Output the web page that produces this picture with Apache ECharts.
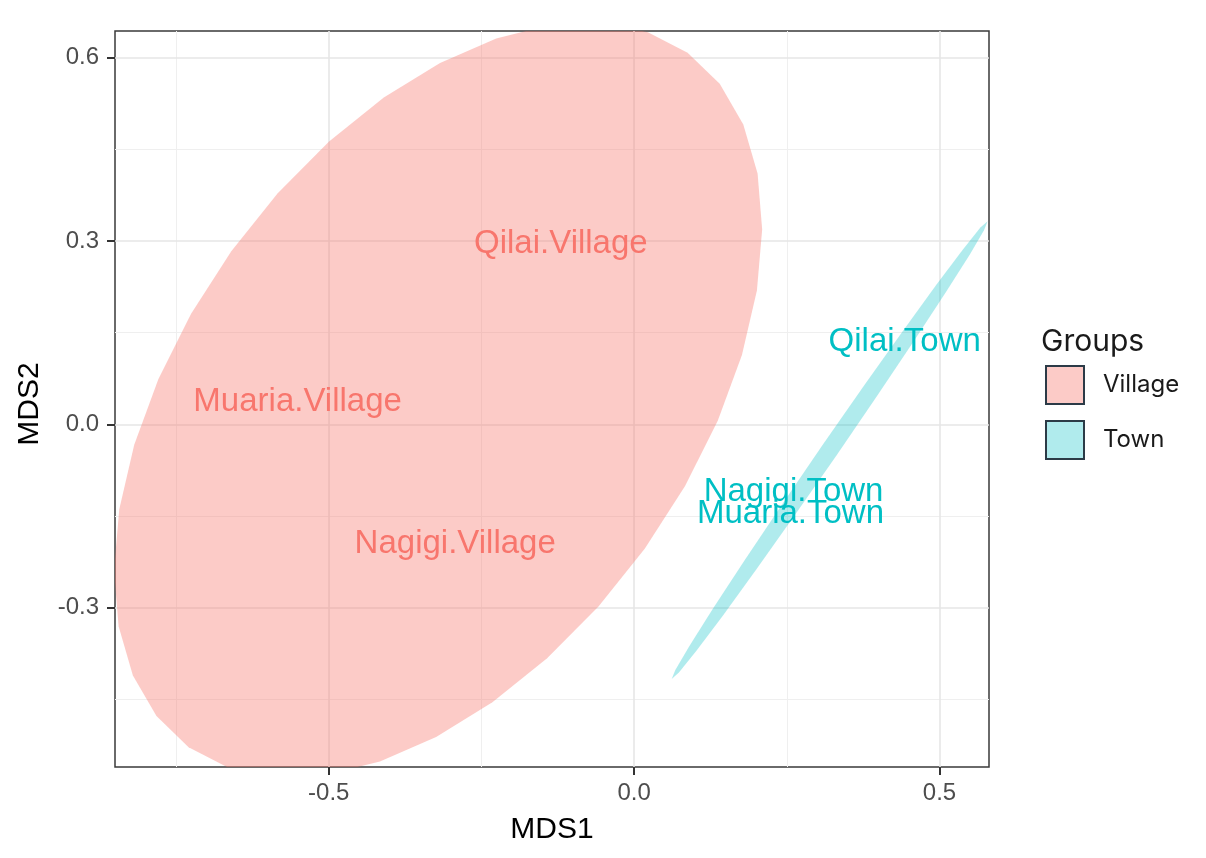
<!DOCTYPE html>
<html lang="en">
<head>
    <meta charset="UTF-8">
    <title>MDS</title>
    <script src="https://cdn.jsdelivr.net/npm/echarts@6.0.0/dist/echarts.min.js"></script>
    <style>
        html, body { margin: 0; padding: 0; background: #fff; }
        #chart { width: 1206px; height: 858px; }
    </style>
</head>
<body>
    <div id="chart"></div>
    <script>
        // tick positions
        var xTicks = [-0.5, 0, 0.5];
        var xMinor = [-0.75, -0.25, 0.25];
        var yTicks = [-0.3, 0, 0.3, 0.6];
        var yMinor = [-0.45, -0.15, 0.15, 0.45];

        // group labels (MDS1, MDS2)
        var villageNames = ['Qilai.Village', 'Muaria.Village', 'Nagigi.Village'];
        var villagePoints = [[-0.120, 0.296], [-0.551, 0.036], [-0.293, -0.196]];
        var townNames = ['Qilai.Town', 'Nagigi.Town', 'Muaria.Town'];
        var townPoints = [[0.443, 0.135], [0.261, -0.110], [0.256, -0.146]];

        // ellipse outlines (partly outside the panel)
        var villageOutline = [
            [0.0875, 0.6085], [0.0225, 0.6421], [-0.0529, 0.6574], [-0.1365, 0.6540],
            [-0.2258, 0.6319], [-0.3178, 0.5918], [-0.4099, 0.5350], [-0.4995, 0.4630],
            [-0.5836, 0.3783], [-0.6596, 0.2833], [-0.7254, 0.1809], [-0.7789, 0.0742],
            [-0.8185, -0.0336], [-0.8430, -0.1390], [-0.8516, -0.2391], [-0.8441, -0.3306],
            [-0.8207, -0.4110], [-0.7821, -0.4777], [-0.7295, -0.5285], [-0.6645, -0.5621],
            [-0.5891, -0.5774], [-0.5055, -0.5740], [-0.4162, -0.5519], [-0.3242, -0.5118],
            [-0.2321, -0.4550], [-0.1425, -0.3830], [-0.0584, -0.2983], [0.0176, -0.2033],
            [0.0834, -0.1009], [0.1369, 0.0058], [0.1765, 0.1136], [0.2010, 0.2190],
            [0.2096, 0.3191], [0.2021, 0.4106], [0.1787, 0.4910], [0.1401, 0.5577]
        ];
        var townOutline = [
            [0.5787, 0.3327], [0.5728, 0.3178], [0.5499, 0.2786], [0.5111, 0.2173],
            [0.4594, 0.1385], [0.3982, 0.0473], [0.3318, -0.0501], [0.2643, -0.1468],
            [0.2008, -0.2363], [0.1455, -0.3128], [0.1020, -0.3705], [0.0733, -0.4062],
            [0.0615, -0.4169], [0.0674, -0.4020], [0.0905, -0.3627], [0.1291, -0.3013],
            [0.1809, -0.2226], [0.2421, -0.1314], [0.3085, -0.0340], [0.3759, 0.0627],
            [0.4394, 0.1522], [0.4948, 0.2286], [0.5383, 0.2864], [0.5669, 0.3221]
        ];

        var VILLAGE = '#F8766D';
        var TOWN = '#00BFC4';
        var FONT = '"Liberation Sans", Arial, sans-serif';

        function outlineItem(outline) {
            return function (params, api) {
                if (params.dataIndex !== 0) return;
                var pts = outline.map(function (p) { return api.coord(p); });
                return {
                    type: 'polygon',
                    shape: { points: pts },
                    style: { fill: api.visual('color') }
                };
            };
        }

        function labelItem(names, color) {
            return function (params, api) {
                var pt = api.coord([api.value(0), api.value(1)]);
                return {
                    type: 'text',
                    x: pt[0],
                    y: pt[1],
                    style: {
                        text: names[params.dataIndex],
                        fill: color,
                        fontSize: 33,
                        fontFamily: FONT,
                        align: 'center',
                        verticalAlign: 'middle'
                    }
                };
            };
        }

        var major = { color: '#E6E6E6', width: 1.6, type: 'solid' };
        var minor = { color: '#EFEFEF', width: 1, type: 'solid' };
        var gridLines = []
            .concat(xMinor.map(function (v) { return { xAxis: v, lineStyle: minor }; }))
            .concat(yMinor.map(function (v) { return { yAxis: v, lineStyle: minor }; }))
            .concat(xTicks.map(function (v) { return { xAxis: v, lineStyle: major }; }))
            .concat(yTicks.map(function (v) { return { yAxis: v, lineStyle: major }; }));

        var chart = echarts.init(document.getElementById('chart'));
        chart.setOption({
            animation: false,
            title: {
                text: 'Groups',
                left: 1036,
                top: 322,
                textStyle: { fontFamily: 'Inter, sans-serif', fontSize: 30, fontWeight: 'normal', color: '#1a1a1a' }
            },
            legend: {
                data: ['Village', 'Town'],
                orient: 'vertical',
                left: 1040,
                top: 360,
                icon: 'rect',
                itemWidth: 38,
                itemHeight: 38,
                itemGap: 15,
                selectedMode: false,
                itemStyle: { borderColor: '#2C3B47', borderWidth: 2 },
                textStyle: { fontFamily: 'Inter, sans-serif', fontSize: 24, color: '#1a1a1a', padding: [0, 0, 0, 14] }
            },
            grid: {
                left: 115,
                top: 31,
                width: 874,
                height: 736,
                show: true,
                borderColor: '#3a3a3a',
                borderWidth: 1.5,
                backgroundColor: 'transparent'
            },
            xAxis: {
                type: 'value',
                min: -0.85,
                max: 0.581,
                name: 'MDS1',
                nameLocation: 'middle',
                nameGap: 48,
                nameTextStyle: { fontFamily: FONT, fontSize: 30, color: '#000' },
                axisLine: { show: false, onZero: false },
                axisTick: { show: true, customValues: xTicks, length: 8, lineStyle: { color: '#333', width: 2 } },
                axisLabel: {
                    customValues: xTicks,
                    margin: 14,
                    fontFamily: FONT,
                    fontSize: 24,
                    color: '#4D4D4D',
                    formatter: function (v) { return v.toFixed(1); }
                },
                splitLine: { show: false }
            },
            yAxis: {
                type: 'value',
                min: -0.561,
                max: 0.644,
                name: 'MDS2',
                nameLocation: 'middle',
                nameGap: 70,
                nameRotate: 90,
                nameTextStyle: { fontFamily: FONT, fontSize: 30, color: '#000', padding: [0, 10, 0, 0] },
                axisLine: { show: false, onZero: false },
                axisTick: { show: true, customValues: yTicks, length: 8, lineStyle: { color: '#333', width: 2 } },
                axisLabel: {
                    customValues: yTicks,
                    margin: 16,
                    fontFamily: FONT,
                    fontSize: 24,
                    color: '#4D4D4D',
                    formatter: function (v) { return v.toFixed(1); }
                },
                splitLine: { show: false }
            },
            series: [
                {
                    name: 'grid',
                    type: 'line',
                    data: [],
                    z: 0,
                    silent: true,
                    markLine: {
                        silent: true,
                        z: 0,
                        symbol: 'none',
                        label: { show: false },
                        data: gridLines
                    }
                },
                {
                    name: 'Village',
                    type: 'custom',
                    clip: true,
                    z: 2,
                    itemStyle: { color: 'rgba(248,118,109,0.38)' },
                    data: villageOutline,
                    renderItem: outlineItem(villageOutline)
                },
                {
                    name: 'Town',
                    type: 'custom',
                    clip: true,
                    z: 2,
                    itemStyle: { color: 'rgba(0,191,196,0.31)' },
                    data: townOutline,
                    renderItem: outlineItem(townOutline)
                },
                {
                    name: 'Village labels',
                    type: 'custom',
                    clip: true,
                    z: 3,
                    data: villagePoints,
                    renderItem: labelItem(villageNames, VILLAGE)
                },
                {
                    name: 'Town labels',
                    type: 'custom',
                    clip: true,
                    z: 3,
                    data: townPoints,
                    renderItem: labelItem(townNames, TOWN)
                }
            ]
        });
    </script>
</body>
</html>
